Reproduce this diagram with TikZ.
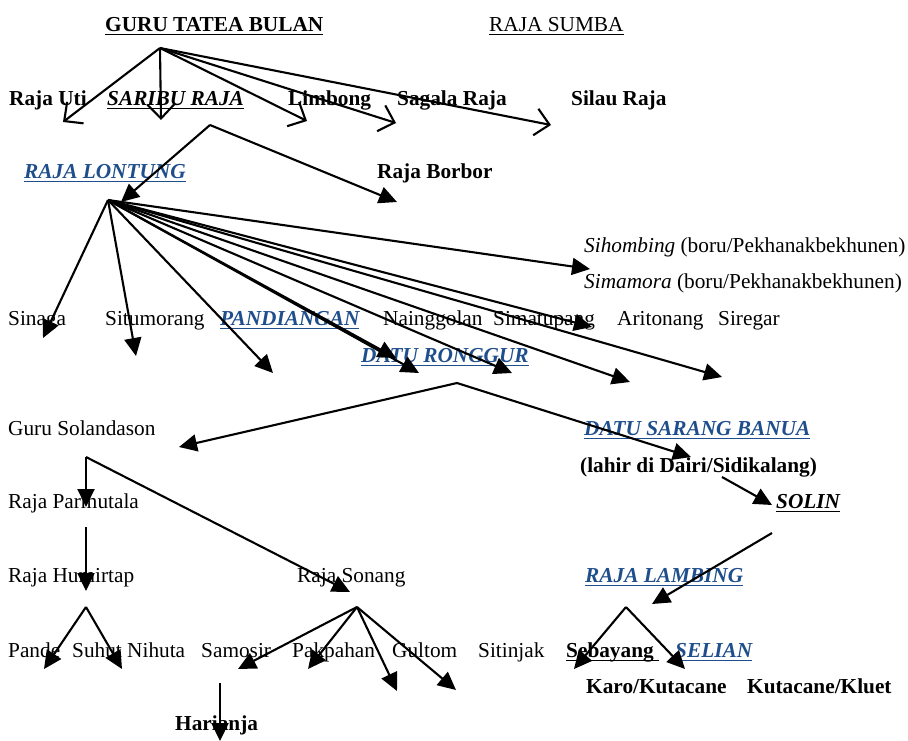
\documentclass[tikz,border=0pt]{standalone}
\usepackage{fontspec}
\setmainfont{Liberation Serif}
\usetikzlibrary{arrows.meta}
\definecolor{lblue}{HTML}{1F4E8C}
\newcommand\myul[2][black]{\setbox0\hbox{#2}\rlap{\color{#1}\rule[-4.2pt]{\wd0}{1.7pt}}\box0}
\newcommand\bluename[1]{\textcolor{lblue}{\myul[lblue]{\bfseries\itshape #1}}}
\tikzset{
  txt/.style={anchor=base west, inner sep=0pt, font=\fontsize{21.3}{25}\selectfont},
  openarr/.style={line width=2.1pt, -{Straight Barb[length=14pt,width=27pt,line width=2.1pt]}},
  fillarr/.style={line width=2.1pt, -{Triangle[length=18pt,width=17pt]}},
}
\begin{document}
\begin{tikzpicture}[x=1pt,y=-1pt]
\useasboundingbox (0,0) rectangle (908,740);
% ---------- texts ----------
\node[txt] (gtb) at (105,31) {\myul{\bfseries GURU TATEA BULAN}};
\node[txt] (sumba) at (489,31) {\myul{RAJA SUMBA}};
\node[txt] (uti) at (9,105) {\bfseries Raja Uti};
\node[txt] (saribu) at (107,105) {\myul{\bfseries\itshape SARIBU RAJA}};
\node[txt] (limbong) at (288,105) {\bfseries Limbong};
\node[txt] (sagala) at (397,105) {\bfseries Sagala Raja};
\node[txt] (silau) at (571,105) {\bfseries Silau Raja};
\node[txt] (lontung) at (24,178) {\bluename{RAJA LONTUNG}};
\node[txt] (borbor) at (377,178) {\bfseries Raja Borbor};
\node[txt] (sihombing) at (584,252) {\textit{Sihombing} (boru/Pekhanakbekhunen)};
\node[txt] (simamora) at (584,288) {\textit{Simamora} (boru/Pekhanakbekhunen)};
\node[txt] (sinaga) at (8,325) {Sinaga};
\node[txt] (situmorang) at (105,325) {Situmorang};
\node[txt] (pandiangan) at (220,325) {\bluename{PANDIANGAN}};
\node[txt] (nainggolan) at (383,325) {Nainggolan};
\node[txt] (simatupang) at (493,325) {Simatupang};
\node[txt] (aritonang) at (617,325) {Aritonang};
\node[txt] (siregar) at (718,325) {Siregar};
\node[txt] (ronggur) at (361,362) {\bluename{DATU RONGGUR}};
\node[txt] (solandason) at (8,435) {Guru Solandason};
\node[txt] (sarang) at (584,435) {\bluename{DATU SARANG BANUA}};
\node[txt] (lahir) at (580,472) {\bfseries (lahir di Dairi/Sidikalang)};
\node[txt] (solin) at (776,508) {\myul{\bfseries\itshape SOLIN}};
\node[txt] (parmutala) at (8,508) {Raja Parmutala};
\node[txt] (humirtap) at (8,582) {Raja Humirtap};
\node[txt] (sonang) at (297,582) {Raja Sonang};
\node[txt] (lambing) at (585,582) {\bluename{RAJA LAMBING}};
\node[txt] (pande) at (8,657) {Pande};
\node[txt] (suhut) at (72,657) {Suhut};
\node[txt] (nihuta) at (127,657) {Nihuta};
\node[txt] (samosir) at (201,657) {Samosir};
\node[txt] (pakpahan) at (292,657) {Pakpahan};
\node[txt] (gultom) at (392,657) {Gultom};
\node[txt] (sitinjak) at (478,657) {Sitinjak};
\node[txt] (sebayang) at (566,657) {\myul{\bfseries Sebayang\ }};
\node[txt] (selian) at (675,657) {\bluename{SELIAN}};
\node[txt] (karo) at (586,693) {\bfseries Karo/Kutacane};
\node[txt] (kluet) at (747,693) {\bfseries Kutacane/Kluet};
\node[txt] (harianja) at (175,730) {\bfseries Harianja};
% ---------- hub and tip coordinates ----------
\coordinate (hgtb) at (160,48);
\coordinate (tuti) at (63,122);
\coordinate (tsaribu) at (161,120);
\coordinate (tlimbong) at (307,121);
\coordinate (tsagala) at (396,123);
\coordinate (tsilau) at (551,125);
\coordinate (hsaribu) at (210,125);
\coordinate (tlontung) at (121,202);
\coordinate (tborbor) at (397,202);
\coordinate (hlontung) at (108,200);
\coordinate (tsinaga) at (43,338);
\coordinate (tsitumorang) at (136,356);
\coordinate (tpandiangan) at (273,373);
\coordinate (tnainggolan) at (396,358);
\coordinate (tronggur) at (419,373);
\coordinate (tsimatupang) at (512,373);
\coordinate (tsimatupangb) at (592,327);
\coordinate (taritonang) at (630,382);
\coordinate (tsiregar) at (722,377);
\coordinate (tsihombing) at (590,269);
\coordinate (hronggur) at (457,383);
\coordinate (tsolandason) at (179,447);
\coordinate (tsarang) at (691,457);
\coordinate (hsarang) at (722,477);
\coordinate (tsolin) at (772,505);
\coordinate (hsolin) at (772,533);
\coordinate (tlambing) at (652,604);
\coordinate (hlambing) at (626,607);
\coordinate (tsebayang) at (574,669);
\coordinate (tselian) at (685,669);
\coordinate (hsolandason) at (86,457);
\coordinate (tparmutala) at (86,507);
\coordinate (tsonang) at (350,592);
\coordinate (hparmutala) at (86,527);
\coordinate (thumirtap) at (86,591);
\coordinate (hhumirtap) at (86,607);
\coordinate (tpande) at (44,669);
\coordinate (tsuhut) at (122,669);
\coordinate (hsonang) at (357,607);
\coordinate (tsamosir) at (238,669);
\coordinate (tpakpahan) at (308,669);
\coordinate (tgultom) at (397,691);
\coordinate (tsitinjak) at (456,690);
\coordinate (hsamosir) at (220,683);
\coordinate (tharianja) at (220,741);
% ---------- connectors ----------
\foreach \t in {tuti,tsaribu,tlimbong,tsagala,tsilau}
  \draw[openarr] (hgtb) -- (\t);
\draw[fillarr] (hsaribu) -- (tlontung);
\draw[fillarr] (hsaribu) -- (tborbor);
\foreach \t in {tsinaga,tsitumorang,tpandiangan,tnainggolan,tronggur,tsimatupang,tsimatupangb,taritonang,tsiregar,tsihombing}
  \draw[fillarr] (hlontung) -- (\t);
\draw[fillarr] (hronggur) -- (tsolandason);
\draw[fillarr] (hronggur) -- (tsarang);
\draw[fillarr] (hsarang) -- (tsolin);
\draw[fillarr] (hsolin) -- (tlambing);
\draw[fillarr] (hlambing) -- (tsebayang);
\draw[fillarr] (hlambing) -- (tselian);
\draw[fillarr] (hsolandason) -- (tparmutala);
\draw[fillarr] (hsolandason) -- (tsonang);
\draw[fillarr] (hparmutala) -- (thumirtap);
\draw[fillarr] (hhumirtap) -- (tpande);
\draw[fillarr] (hhumirtap) -- (tsuhut);
\foreach \t in {tsamosir,tpakpahan,tgultom,tsitinjak}
  \draw[fillarr] (hsonang) -- (\t);
\draw[fillarr] (hsamosir) -- (tharianja);
\end{tikzpicture}
\end{document}
